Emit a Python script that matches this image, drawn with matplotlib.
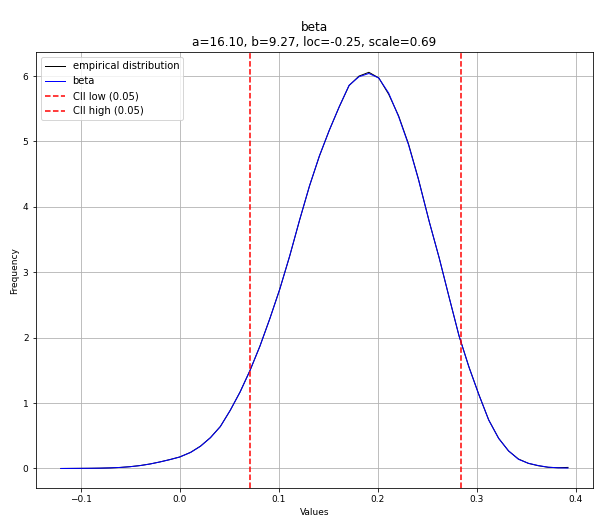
import numpy as np
import matplotlib
matplotlib.use("Agg")
import matplotlib.pyplot as plt

# bin centres of the empirical histogram
bin_centers = [-0.120, -0.110, -0.100, -0.090, -0.080, -0.070, -0.060, -0.050,
               -0.040, -0.030, -0.020, -0.010, 0.000, 0.011, 0.021, 0.031,
               0.041, 0.051, 0.061, 0.071, 0.081, 0.091, 0.101, 0.111,
               0.121, 0.131, 0.141, 0.151, 0.161, 0.171, 0.181, 0.191,
               0.201, 0.211, 0.221, 0.231, 0.241, 0.252, 0.262, 0.272,
               0.282, 0.292, 0.302, 0.312, 0.322, 0.332, 0.342, 0.352,
               0.362, 0.372, 0.382, 0.392]

# empirical density
empirical = [0.000, 0.001, 0.002, 0.003, 0.005, 0.009, 0.016, 0.028,
             0.045, 0.069, 0.100, 0.136, 0.176, 0.247, 0.342, 0.472,
             0.642, 0.888, 1.172, 1.500, 1.872, 2.293, 2.742, 3.245,
             3.795, 4.318, 4.775, 5.172, 5.528, 5.855, 6.000, 6.058,
             5.972, 5.722, 5.392, 4.962, 4.428, 3.772, 3.218, 2.618,
             2.028, 1.555, 1.132, 0.742, 0.462, 0.268, 0.145, 0.078,
             0.042, 0.018, 0.012, 0.016]

# fitted beta pdf evaluated at the bin centres
beta_pdf = [0.000, 0.001, 0.002, 0.003, 0.005, 0.009, 0.016, 0.027,
            0.044, 0.068, 0.100, 0.135, 0.175, 0.245, 0.340, 0.470,
            0.640, 0.890, 1.170, 1.500, 1.870, 2.290, 2.740, 3.250,
            3.800, 4.320, 4.780, 5.170, 5.530, 5.860, 5.990, 6.040,
            5.970, 5.740, 5.380, 4.950, 4.420, 3.770, 3.220, 2.620,
            2.030, 1.550, 1.130, 0.740, 0.460, 0.270, 0.140, 0.080,
            0.045, 0.020, 0.010, 0.006]

cii_low = 0.0714
cii_high = 0.2842

fig = plt.figure(figsize=(599 / 72, 526 / 72), dpi=72)
ax = fig.add_axes([0.0593, 0.0717, 0.9312, 0.8285])

ax.plot(bin_centers, empirical, "k-", linewidth=1, label="empirical distribution")
ax.plot(bin_centers, beta_pdf, "b-", linewidth=1, label="beta")
ax.axvline(cii_low, color="r", linestyle="--", linewidth=1.5, label="CII low (0.05)")
ax.axvline(cii_high, color="r", linestyle="--", linewidth=1.5, label="CII high (0.05)")

ax.set_title("beta\na=16.10, b=9.27, loc=-0.25, scale=0.69", fontsize=12)
ax.set_xlabel("Values", fontsize=9)
ax.set_ylabel("Frequency", fontsize=9)
ax.tick_params(labelsize=9)
ax.grid(True)
ax.legend(loc="upper left", fontsize=10)

fig.savefig("out.png", dpi=72)
